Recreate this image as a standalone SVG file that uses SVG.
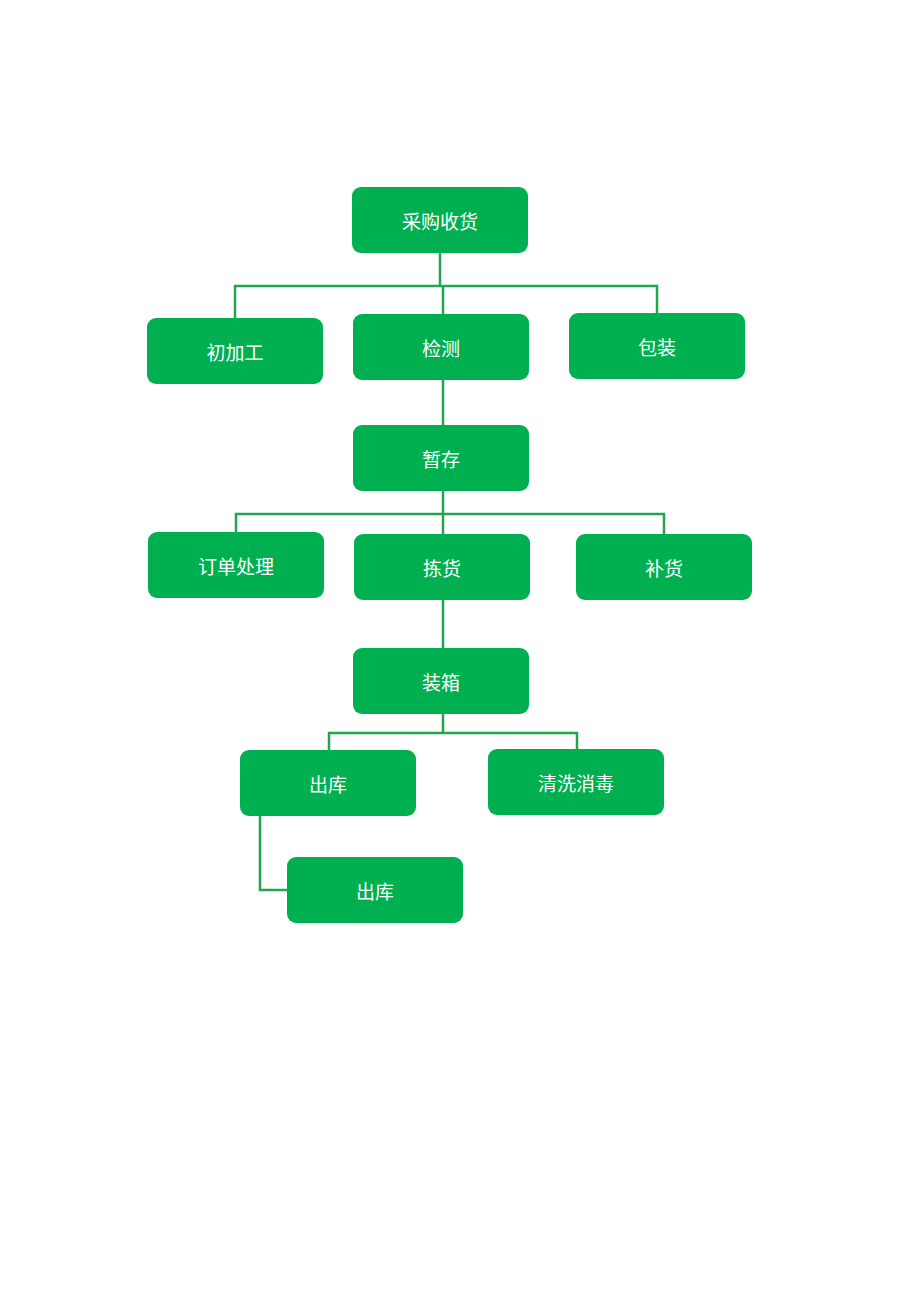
<svg xmlns="http://www.w3.org/2000/svg" width="920" height="1302" viewBox="0 0 920 1302">
<style>
.n rect{fill:#00b050;}
.n text{fill:#fff;font-family:"Noto Sans CJK SC","Liberation Sans",sans-serif;font-size:19px;text-anchor:middle;dominant-baseline:central;}
.c{stroke:#1fa64f;stroke-width:2.5;fill:none;}
</style>
<rect width="920" height="1302" fill="#fff"/>
<g id="connectors" class="c">
<path d="M440 253V286M235 318V286H657V313M443 286V314"/>
<path d="M443 380V425"/>
<path d="M443 491V534M236 532V514H664V534"/>
<path d="M443 600V648"/>
<path d="M443 714V733M329 750V733H577V749"/>
<path d="M260 816V890H287"/>
</g>
<g id="n1" class="n"><rect x="352" y="187" width="176" height="66" rx="9"/><text x="440" y="220">采购收货</text></g>
<g id="n2" class="n"><rect x="147" y="318" width="176" height="66" rx="9"/><text x="235" y="351">初加工</text></g>
<g id="n3" class="n"><rect x="353" y="314" width="176" height="66" rx="9"/><text x="441" y="347">检测</text></g>
<g id="n4" class="n"><rect x="569" y="313" width="176" height="66" rx="9"/><text x="657" y="346">包装</text></g>
<g id="n5" class="n"><rect x="353" y="425" width="176" height="66" rx="9"/><text x="441" y="458">暂存</text></g>
<g id="n6" class="n"><rect x="148" y="532" width="176" height="66" rx="9"/><text x="236" y="565">订单处理</text></g>
<g id="n7" class="n"><rect x="354" y="534" width="176" height="66" rx="9"/><text x="442" y="567">拣货</text></g>
<g id="n8" class="n"><rect x="576" y="534" width="176" height="66" rx="9"/><text x="664" y="567">补货</text></g>
<g id="n9" class="n"><rect x="353" y="648" width="176" height="66" rx="9"/><text x="441" y="681">装箱</text></g>
<g id="n10" class="n"><rect x="240" y="750" width="176" height="66" rx="9"/><text x="328" y="783">出库</text></g>
<g id="n11" class="n"><rect x="488" y="749" width="176" height="66" rx="9"/><text x="576" y="782">清洗消毒</text></g>
<g id="n12" class="n"><rect x="287" y="857" width="176" height="66" rx="9"/><text x="375" y="890">出库</text></g>
</svg>
